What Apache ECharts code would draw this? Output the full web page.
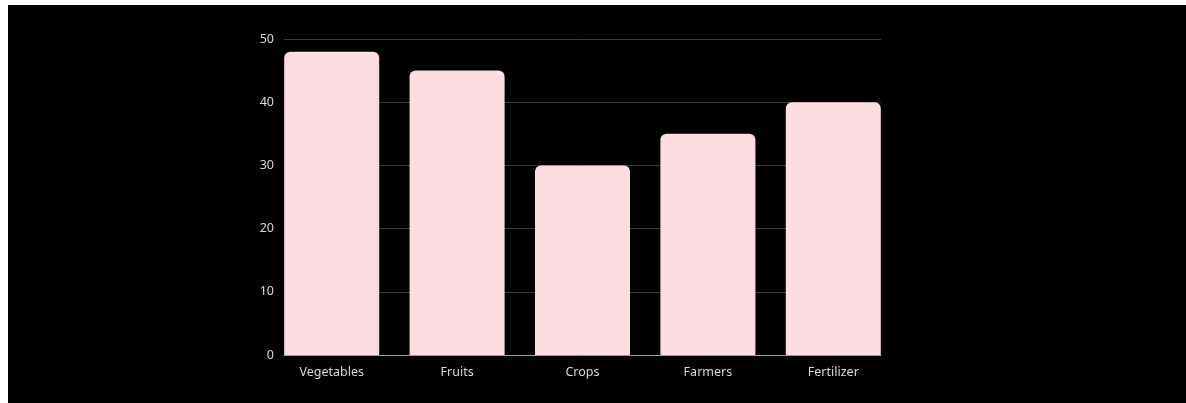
<!DOCTYPE html>
<html>
<head>
<meta charset="utf-8">
<script src="https://cdn.jsdelivr.net/npm/echarts@6/dist/echarts.min.js"></script>
<style>
  html, body { margin: 0; padding: 0; background: #fff; }
  #chart { position: absolute; left: 8px; top: 5px; width: 1178px; height: 398px; background: #000; }
</style>
</head>
<body>
<div id="chart"></div>
<script>
const categories = ['Vegetables', 'Fruits', 'Crops', 'Farmers', 'Fertilizer'];
const values = [48, 45, 30, 35, 40];
const yTicks = [0, 10, 20, 30, 40, 50];

const textColor = '#d9d9d9';
const font = '"Noto Sans", sans-serif';

const chart = echarts.init(document.getElementById('chart'));
chart.setOption({
  backgroundColor: '#000',
  animation: false,
  grid: [
    // grid for gridlines + y labels
    { left: 276, right: 305, top: 34, bottom: 48 },
    // wider grid so the bars sit flush with the axis ends
    { left: 261, right: 290, top: 34, bottom: 48 }
  ],
  xAxis: [
    {
      gridIndex: 0, type: 'category', data: categories,
      axisLine: { show: true, lineStyle: { color: '#9a9a9a', width: 1 } },
      axisTick: { show: false }, axisLabel: { show: false }, splitLine: { show: false }
    },
    {
      gridIndex: 1, type: 'category', data: categories,
      axisLine: { show: false }, axisTick: { show: false },
      axisLabel: { color: textColor, fontSize: 12.5, fontFamily: font, margin: 11 }
    }
  ],
  yAxis: [
    {
      gridIndex: 0, type: 'value', min: yTicks[0], max: yTicks[yTicks.length - 1], interval: 10,
      axisLine: { show: false }, axisTick: { show: false },
      axisLabel: { color: textColor, fontSize: 12.5, fontFamily: font, margin: 10 },
      splitLine: { lineStyle: { color: '#3a3a3a', width: 1 } }
    },
    {
      gridIndex: 1, type: 'value', min: yTicks[0], max: yTicks[yTicks.length - 1], interval: 10,
      show: false, splitLine: { show: false }
    }
  ],
  series: [{
    type: 'bar',
    xAxisIndex: 1, yAxisIndex: 1,
    data: values,
    barWidth: 95,
    itemStyle: { color: '#fcdee2', borderRadius: [6, 6, 0, 0] }
  }]
});
</script>
</body>
</html>
